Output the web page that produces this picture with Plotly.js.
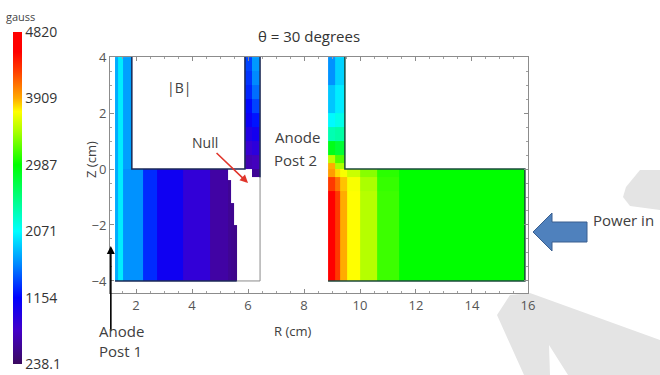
<!DOCTYPE html>
<html><head><meta charset="utf-8">
<script src="https://cdn.plot.ly/plotly-3.0.1.min.js"></script>
<style>html,body{margin:0;padding:0;background:#fff}#chart{width:660px;height:375px}</style>
</head><body><div id="chart"></div>
<script>
// ---- field |B| (gauss), cell edges in cm ----
// Anode post 1, above Z = 0
const post1R = [1.25, 1.36, 1.54, 1.85];
const post1Z = [0, 4];
const post1B = [[1750, 2000, 1700]];

// Lower-left gap region (Z < 0)
const lowLeftR = [1.25, 1.36, 1.54, 2.25, 2.75, 3.68, 4.64, 5.28, 5.4, 5.5, 5.6];
const lowLeftZ = [-4, -3, -2, -1.2, -0.4, 0];
const lowLeftB = [
  [1750, 2000, 1650, 1300, 1050, 820, 540, 470, 450, 430],
  [1750, 2000, 1650, 1300, 1050, 820, 540, 470, 450, 430],
  [1750, 2000, 1650, 1300, 1050, 820, 540, 470, 450, null],
  [1750, 2000, 1650, 1300, 1050, 820, 540, 470, null, null],
  [1750, 2000, 1650, 1300, 1050, 820, 540, null, null, null]
];

// Anode post 2
const post2R = [5.89, 6.15, 6.43];
const post2Z = [-0.3, 0, 0.5, 1, 1.5, 2, 2.5, 3, 3.5, 4];
const post2B = [
  [null, 480], [600, 650], [780, 860], [930, 1020], [1080, 1220],
  [1180, 1380], [1280, 1520], [1330, 1620], [1380, 1680]
];

// Outer post (R ~ 9)
const post3R = [8.86, 9.1, 9.46];
const post3Z = [0, 0.2, 0.5, 1, 1.5, 2, 3, 4];
const post3B = [
  [3900, 3450], [3500, 3200], [2900, 2800], [2350, 2400],
  [2050, 2150], [1850, 2000], [1650, 1900]
];

// Lower-right feed region
const lowRightR = [8.86, 9.1, 9.3, 9.55, 10.0, 10.6, 11.4, 15.89];
const lowRightZ = [-4, -0.8, -0.3, 0];
const lowRightB = [
  [4650, 4300, 3900, 3720, 3480, 3150, 2987],
  [4300, 4100, 3850, 3700, 3450, 3130, 2987],
  [3950, 3800, 3700, 3550, 3350, 3100, 2987]
];

// Colour bar
const cbTicks = [238.1, 1154, 2071, 2987, 3909, 4820];
const cbLabels = ['238.1', '1154', '2071', '2987', '3909', '4820'];

// Region boundaries (cm)
const boxR = [1.85, 1.85, 5.89, 5.89];
const boxZ = [4, 0, 0, 4];
const post2EdgeR = [6.43, 6.43];
const post2EdgeZ = [4, -0.3];
const leftBottomR = [1.25, 5.6];
const leftBottomZ = [-4, -4];
const domainR = [5.6, 6.43, 6.43];
const domainZ = [-4, -4, -0.3];
const rightOutlineR = [9.46, 9.46, 15.89, 15.89, 8.86];
const rightOutlineZ = [4, 0, 0, -4, -4];

const colorscale = [
  [0, '#3a0a5e'], [0.1, '#4400c8'], [0.2, '#0000ff'], [0.3, '#0088ff'],
  [0.4, '#00ffff'], [0.5, '#00ff80'], [0.6, '#00ff00'], [0.7, '#aaff00'],
  [0.76, '#ffff00'], [0.8, '#ffaa00'], [0.88, '#ff4000'], [0.94, '#ff0000'], [1, '#ff0000']
];

function hm(x, y, z) {
  return {type: 'heatmap', x: x, y: y, z: z, coloraxis: 'coloraxis',
          zsmooth: false, hoverongaps: false, showscale: false};
}
function ln(x, y, color, w) {
  return {type: 'scatter', mode: 'lines', x: x, y: y, showlegend: false,
          hoverinfo: 'skip', line: {color: color, width: w}};
}

const data = [
  hm(post1R, post1Z, post1B),
  hm(lowLeftR, lowLeftZ, lowLeftB),
  hm(post2R, post2Z, post2B),
  hm(post3R, post3Z, post3B),
  hm(lowRightR, lowRightZ, lowRightB),
  ln(boxR, boxZ, '#1c2a55', 1.5),
  ln(post2EdgeR, post2EdgeZ, '#1c2a55', 1.5),
  ln(leftBottomR, leftBottomZ, '#1c2a55', 1.5),
  ln(domainR, domainZ, '#8a8a8a', 1),
  ln(rightOutlineR, rightOutlineZ, '#1d4a3c', 1.5)
];

const F = 'Open Sans, Noto Sans, sans-serif';
const T = '#404040';
// pixel -> paper helpers (plot area: left 110, top 57, 418 x 236)
const px = v => (v - 110) / 418;
const py = v => (293 - v) / 236;

const layout = {
  width: 660, height: 375,
  margin: {l: 110, r: 132, t: 57, b: 82, pad: 0},
  paper_bgcolor: '#fff', plot_bgcolor: '#fff',
  font: {family: F, color: T},
  showlegend: false,
  title: {text: 'θ = 30 degrees', xref: 'container', yref: 'container',
          x: 309 / 660, xanchor: 'center', y: 1 - 37 / 375, yanchor: 'middle',
          font: {size: 15, color: '#333'}},
  xaxis: {range: [1.07, 16.001], tick0: 0, dtick: 2, showgrid: false, zeroline: false,
          showline: true, linecolor: '#8c8c8c', linewidth: 1, mirror: 'ticks',
          ticks: 'inside', ticklen: 4, tickcolor: '#8c8c8c',
          minor: {dtick: 0.5, ticks: 'inside', ticklen: 2, tickcolor: '#a0a0a0'},
          tickfont: {size: 13, color: '#555'}},
  yaxis: {range: [-4.43, 4.002], tick0: 0, dtick: 2, showgrid: false, zeroline: false,
          showline: true, linecolor: '#8c8c8c', linewidth: 1, mirror: 'ticks',
          ticks: 'inside', ticklen: 4, tickcolor: '#8c8c8c',
          minor: {dtick: 0.5, ticks: 'inside', ticklen: 2, tickcolor: '#a0a0a0'},
          tickfont: {size: 13, color: '#555'}},
  coloraxis: {
    cmin: 238.0, cmax: 4820.1, colorscale: colorscale,
    colorbar: {
      xref: 'paper', yref: 'paper',
      x: px(13), xanchor: 'left', y: py(198), yanchor: 'middle',
      lenmode: 'pixels', len: 332, thickness: 9, xpad: 0, ypad: 0,
      outlinewidth: 0, ticks: '', tickvals: cbTicks, ticktext: cbLabels,
      ticklabeloverflow: 'allow',
      tickfont: {size: 14, color: '#333'}
    }
  },
  shapes: [
    // light grey background decoration
    {type: 'path', xref: 'paper', yref: 'paper', layer: 'below',
     path: `M ${px(497)} ${py(315)} L ${px(510)} ${py(295)} L ${px(530)} ${py(293)} L ${px(660)} ${py(340)} L ${px(660)} ${py(375)} L ${px(568)} ${py(375)} L ${px(549)} ${py(345)} L ${px(550)} ${py(375)} L ${px(524)} ${py(375)} Z`,
     fillcolor: '#e4e4e4', line: {width: 0}},
    {type: 'path', xref: 'paper', yref: 'paper', layer: 'below',
     path: `M ${px(640)} ${py(170)} L ${px(626)} ${py(187)} L ${px(623)} ${py(197)} L ${px(630)} ${py(206)} L ${px(660)} ${py(210)} L ${px(660)} ${py(170)} Z`,
     fillcolor: '#e4e4e4', line: {width: 0}},
    // blue "power in" block arrow
    {type: 'path', xref: 'paper', yref: 'paper',
     path: `M ${px(533)} ${py(232)} L ${px(552)} ${py(213)} L ${px(552)} ${py(222)} L ${px(587)} ${py(222)} L ${px(587)} ${py(242)} L ${px(552)} ${py(242)} L ${px(552)} ${py(251)} Z`,
     fillcolor: '#4f81bd', line: {color: '#3a5f8f', width: 1}}
  ],
  annotations: [
    {text: 'gauss', xref: 'paper', yref: 'paper', x: px(4), y: py(16),
     xanchor: 'left', yanchor: 'middle', showarrow: false, font: {size: 11, color: '#444'}},
    {text: 'Z (cm)', xref: 'paper', yref: 'paper', x: px(80), y: py(160),
     textangle: -90, showarrow: false, font: {size: 13, color: T}},
    {text: 'R (cm)', xref: 'paper', yref: 'paper', x: px(292), y: py(342),
     showarrow: false, font: {size: 13, color: T}},
    {text: '|B|', x: 3.53, y: 2.93, showarrow: false, font: {size: 14, color: T}},
    {text: 'Null', x: 6.0, y: -0.5, ax: -43, ay: -41, showarrow: true,
     arrowcolor: '#e0352b', arrowwidth: 1.6, arrowhead: 2, arrowsize: 1,
     font: {size: 14, color: T}},
    {text: 'Anode', x: 7.75, y: 1.15, showarrow: false, font: {size: 15, color: T}},
    {text: 'Post 2', x: 7.7, y: 0.33, showarrow: false, font: {size: 15, color: T}},
    {text: '', x: 1.1, y: -2.75, ax: 0, ay: 86, showarrow: true,
     arrowcolor: '#000', arrowwidth: 1.6, arrowhead: 2, arrowsize: 1},
    {text: 'Anode', xref: 'paper', yref: 'paper', x: px(97), y: py(343),
     xanchor: 'left', showarrow: false, font: {size: 15, color: T}},
    {text: 'Post 1', xref: 'paper', yref: 'paper', x: px(97), y: py(363),
     xanchor: 'left', showarrow: false, font: {size: 15, color: T}},
    {text: 'Power in', xref: 'paper', yref: 'paper', x: px(591), y: py(232),
     xanchor: 'left', showarrow: false, font: {size: 15, color: T}}
  ]
};

Plotly.newPlot('chart', data, layout, {displayModeBar: false, staticPlot: true});
</script>
</body></html>
